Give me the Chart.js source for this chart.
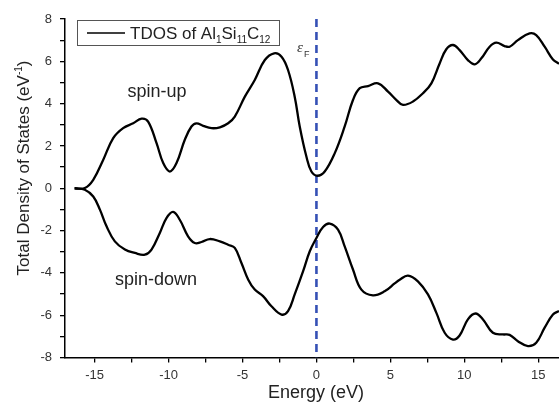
<!DOCTYPE html>
<html>
<head>
<meta charset="utf-8">
<script src="https://cdn.jsdelivr.net/npm/chart.js@4.4.1/dist/chart.umd.min.js"></script>
<style>
  html, body { margin: 0; padding: 0; background: #fff; }
  #wrap { width: 559px; height: 403px; }
</style>
</head>
<body>
<div id="wrap"><canvas id="myChart" width="559" height="403"></canvas></div>
<script>
// energy (eV) and TDOS values
var upE = [-16.35, -15.66, -15.09, -14.42, -13.74, -13.07, -12.39, -11.82, -11.38, -10.81,
  -10.36, -9.91, -9.46, -8.9, -8.45, -8.11, -7.66, -7.09, -6.53, -5.97,
  -5.52, -4.84, -4.17, -3.49, -2.86, -2.36, -1.92, -1.47, -1.13, -0.68,
  -0.34, 0.07, 0.56, 1.24, 1.91, 2.47, 2.93, 3.49, 4.16, 4.84,
  5.41, 5.85, 6.53, 7.2, 7.77, 8.33, 8.78, 9.23, 9.68, 10.24,
  10.7, 11.15, 11.71, 12.16, 12.72, 13.06, 13.62, 14.41, 14.86, 15.43,
  15.99, 16.4];
var upDos = [0, 0.01, 0.4, 1.34, 2.37, 2.84, 3.07, 3.29, 3.15, 2.13,
  1.19, 0.79, 1.19, 2.29, 2.92, 3.07, 2.95, 2.84, 2.88, 3.07,
  3.39, 4.33, 5.12, 6.06, 6.38, 6.22, 5.59, 4.33, 2.92, 1.5,
  0.79, 0.59, 0.79, 1.66, 2.92, 4.17, 4.73, 4.83, 4.96, 4.57,
  4.17, 3.94, 4.1, 4.49, 4.96, 5.9, 6.57, 6.77, 6.53, 6.06,
  5.86, 6.14, 6.69, 6.88, 6.72, 6.69, 7.0, 7.32, 7.24, 6.69,
  6.09, 5.88];

var dnE = [-16.35, -15.66, -15.09, -14.64, -14.19, -13.63, -12.95, -12.28, -11.6, -11.15,
  -10.59, -10.14, -9.69, -9.24, -8.68, -8.22, -7.77, -7.21, -6.53, -5.97,
  -5.52, -5.07, -4.61, -4.17, -3.61, -3.04, -2.36, -1.92, -1.47, -0.9,
  -0.45, 0, 0.45, 0.9, 1.46, 1.91, 2.47, 3.04, 3.82, 4.61,
  5.29, 5.63, 6.19, 6.86, 7.54, 8.11, 8.67, 9.23, 9.68, 10.24,
  10.76, 11.26, 11.93, 12.61, 13.06, 13.62, 14.3, 14.86, 15.43, 15.99,
  16.4];
var dnDos = [0, -0.07, -0.39, -1.01, -1.8, -2.51, -2.9, -3.06, -3.14, -2.9,
  -2.11, -1.41, -1.12, -1.49, -2.27, -2.59, -2.54, -2.4, -2.51, -2.67,
  -2.82, -3.53, -4.32, -4.79, -5.1, -5.58, -5.97, -5.81, -5.02, -3.92,
  -2.98, -2.35, -1.83, -1.67, -1.96, -2.75, -3.84, -4.79, -5.06, -4.87,
  -4.5, -4.32, -4.13, -4.4, -5.02, -5.89, -6.83, -7.15, -6.96, -6.2,
  -5.92, -6.2, -6.83, -6.91, -6.93, -7.23, -7.46, -7.3, -6.59, -5.97,
  -5.8];

// fermi level
var fermiE = [0, 0];
var fermiDos = [8, -8];

// ticks (labels only on the major ones)
var xTicks = [-15, -12.5, -10, -7.5, -5, -2.5, 0, 2.5, 5, 7.5, 10, 12.5, 15];
var xLabels = [-15, -10, -5, 0, 5, 10, 15];
var yTicks = [-8, -7, -6, -5, -4, -3, -2, -1, 0, 1, 2, 3, 4, 5, 6, 7, 8];
var yLabels = [-8, -6, -4, -2, 0, 2, 4, 6, 8];

function pts(xs, ys) {
    var out = [];
    for (var i = 0; i < xs.length; i++) out.push({x: xs[i], y: ys[i]});
    return out;
}

var FONT = "'Liberation Sans', Arial, sans-serif";

// draw text made of pieces (normal / sub / sup)
function richText(ctx, parts, x, y, align) {
    var w = 0;
    parts.forEach(function (p) {
        ctx.font = p.size + 'px ' + FONT;
        p.w = ctx.measureText(p.t).width;
        w += p.w;
    });
    var cx = align === 'center' ? x - w / 2 : x;
    ctx.textAlign = 'left';
    ctx.textBaseline = 'alphabetic';
    parts.forEach(function (p) {
        ctx.font = p.size + 'px ' + FONT;
        ctx.fillText(p.t, cx, y + (p.dy || 0));
        cx += p.w;
    });
}

var extras = {
    id: 'extras',
    afterDraw: function (chart) {
        var ctx = chart.ctx;
        ctx.save();
        ctx.fillStyle = '#222';

        // legend
        ctx.strokeStyle = '#555';
        ctx.lineWidth = 1;
        ctx.strokeRect(77.5, 20.5, 202, 25);
        ctx.strokeStyle = '#000';
        ctx.lineWidth = 1.6;
        ctx.beginPath();
        ctx.moveTo(87, 33);
        ctx.lineTo(125, 33);
        ctx.stroke();
        richText(ctx, [
            {t: 'TDOS of Al', size: 17},
            {t: '1', size: 10, dy: 4},
            {t: 'Si', size: 17},
            {t: '11', size: 10, dy: 4},
            {t: 'C', size: 17},
            {t: '12', size: 10, dy: 4}
        ], 130, 39, 'left');

        // spin labels
        ctx.font = '18px ' + FONT;
        ctx.textAlign = 'center';
        ctx.textBaseline = 'middle';
        ctx.fillText('spin-up', 157, 92);
        ctx.fillText('spin-down', 156, 280);

        // fermi label
        ctx.fillStyle = '#333';
        ctx.font = 'italic 15px "Liberation Serif", serif';
        ctx.textAlign = 'left';
        ctx.textBaseline = 'alphabetic';
        ctx.fillText('\u03b5', 297, 52);
        ctx.font = '9px ' + FONT;
        ctx.fillText('F', 304, 57);

        // axis titles
        ctx.fillStyle = '#222';
        richText(ctx, [{t: 'Energy (eV)', size: 18}], 316, 398, 'center');
        ctx.translate(29, 168);
        ctx.rotate(-Math.PI / 2);
        richText(ctx, [
            {t: 'Total Density of States (eV', size: 17},
            {t: '-1', size: 10, dy: -7},
            {t: ')', size: 17}
        ], 0, 0, 'center');
        ctx.restore();
    }
};

var ctx = document.getElementById("myChart").getContext("2d");
var myChart = new Chart(ctx, {
    type: 'line',
    data: {
        datasets: [
            {
                data: pts(upE, upDos),
                borderColor: '#000',
                borderWidth: 2.3,
                pointRadius: 0,
                tension: 0.4
            },
            {
                data: pts(dnE, dnDos),
                borderColor: '#000',
                borderWidth: 2.3,
                pointRadius: 0,
                tension: 0.4
            },
            {
                data: pts(fermiE, fermiDos),
                borderColor: '#3550b5',
                borderWidth: 2.6,
                borderDash: [8, 5],
                pointRadius: 0
            }
        ]
    },
    options: {
        responsive: false,
        animation: false,
        devicePixelRatio: 1,
        layout: {padding: {top: 19, left: 0, right: 0, bottom: 0}},
        plugins: {legend: {display: false}, tooltip: {enabled: false}},
        scales: {
            x: {
                type: 'linear',
                min: -17,
                max: 16.4,
                afterBuildTicks: function (s) {
                    s.ticks = xTicks.map(function (v) { return {value: v}; });
                },
                afterFit: function (s) { s.height = 45.5; },
                ticks: {
                    autoSkip: false,
                    maxRotation: 0,
                    padding: 5,
                    color: '#333',
                    font: {family: FONT, size: 13},
                    callback: function (v) { return xLabels.indexOf(v) >= 0 ? String(v) : ''; }
                },
                grid: {drawOnChartArea: false, drawTicks: true, tickLength: 5, color: '#000', lineWidth: 1.3},
                border: {display: true, color: '#000', width: 1.5}
            },
            y: {
                type: 'linear',
                min: -8,
                max: 8,
                afterBuildTicks: function (s) {
                    s.ticks = yTicks.map(function (v) { return {value: v}; });
                },
                afterFit: function (s) { s.width = 65; },
                ticks: {
                    autoSkip: false,
                    padding: 8,
                    color: '#333',
                    font: {family: FONT, size: 13},
                    callback: function (v) { return yLabels.indexOf(v) >= 0 ? String(v) : ''; }
                },
                grid: {drawOnChartArea: false, drawTicks: true, tickLength: 5, color: '#000', lineWidth: 1.3},
                border: {display: true, color: '#000', width: 1.5}
            }
        }
    },
    plugins: [extras]
});
</script>
</body>
</html>
